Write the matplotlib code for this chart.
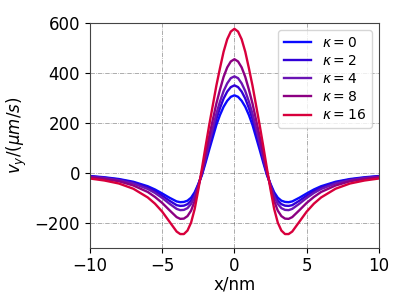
import matplotlib
matplotlib.use('Agg')
import matplotlib.pyplot as plt

# values
x = [-10, -9, -8, -7, -6, -5.5, -5, -4.5, -4, -3.75, -3.5, -3.25, -3, -2.75, -2.5, -2.25,
     -2, -1.75, -1.5, -1.25, -1, -0.75, -0.5, -0.25, 0, 0.25, 0.5, 0.75, 1, 1.25, 1.5,
     1.75, 2, 2.25, 2.5, 2.75, 3, 3.25, 3.5, 3.75, 4, 4.5, 5, 5.5, 6, 7, 8, 9, 10]

v_k0 = [-13, -18, -25, -36, -54, -67, -83, -100, -115, -118, -117, -112, -100, -78, -45, -9,
        40, 92, 142, 192, 232, 265, 289, 305, 311, 305, 289, 265, 232, 192, 142,
        92, 40, -9, -45, -78, -100, -112, -117, -118, -115, -100, -83, -67, -54, -36, -25, -18, -13]
v_k2 = [-14, -20, -27, -39, -59, -74, -92, -112, -130, -133, -132, -126, -112, -86, -48, -6,
        50, 107, 161, 216, 260, 298, 326, 344, 351, 344, 326, 298, 260, 216, 161,
        107, 50, -6, -48, -86, -112, -126, -132, -133, -130, -112, -92, -74, -59, -39, -27, -20, -14]
v_k4 = [-16, -21, -30, -43, -65, -81, -101, -124, -145, -150, -149, -142, -125, -95, -51, -2,
        59, 120, 178, 237, 286, 328, 359, 380, 387, 380, 359, 328, 286, 237, 178,
        120, 59, -2, -51, -95, -125, -142, -149, -150, -145, -124, -101, -81, -65, -43, -30, -21, -16]
v_k8 = [-18, -25, -34, -51, -77, -97, -121, -150, -178, -185, -184, -174, -152, -113, -57, 5,
        75, 145, 212, 278, 334, 385, 423, 447, 456, 447, 423, 385, 334, 278, 212,
        145, 75, 5, -57, -113, -152, -174, -184, -185, -178, -150, -121, -97, -77, -51, -34, -25, -18]
v_k16 = [-23, -31, -43, -64, -99, -124, -156, -196, -236, -246, -246, -232, -200, -145, -68, 17,
         105, 190, 270, 350, 420, 486, 536, 567, 578, 567, 536, 486, 420, 350, 270,
         190, 105, 17, -68, -145, -200, -232, -246, -246, -236, -196, -156, -124, -99, -64, -43, -31, -23]

kappas = [0, 2, 4, 8, 16]
series = [v_k0, v_k2, v_k4, v_k8, v_k16]
colors = ['#0a0aff', '#3000d8', '#6a14b4', '#8c0082', '#d8003c']

fig = plt.figure(figsize=(4.07, 3.05), dpi=100)
ax = fig.add_axes([0.221, 0.1885, 0.710, 0.735])

for k, v, c in zip(kappas, series, colors):
    ax.plot(x, v, color=c, lw=1.7, label=r'$\kappa = %d$' % k)

ax.set_xlim(-10, 10)
ax.set_ylim(-300, 600)
ax.set_xticks([-10, -5, 0, 5, 10])
ax.set_yticks([-200, 0, 200, 400, 600])
ax.grid(True, color='k', linestyle='-.', linewidth=0.5, alpha=0.45)
ax.tick_params(labelsize=12)
for s in ax.spines.values():
    s.set_color('#444444')

ax.set_xlabel('x/nm', fontsize=12, labelpad=0)
ax.set_ylabel(r'$v_y/(\mu m/s)$', fontsize=12)
ax.legend(loc='upper right', fontsize=10, labelspacing=0.3, handlelength=2.0)

fig.savefig('out.png', dpi=100)
